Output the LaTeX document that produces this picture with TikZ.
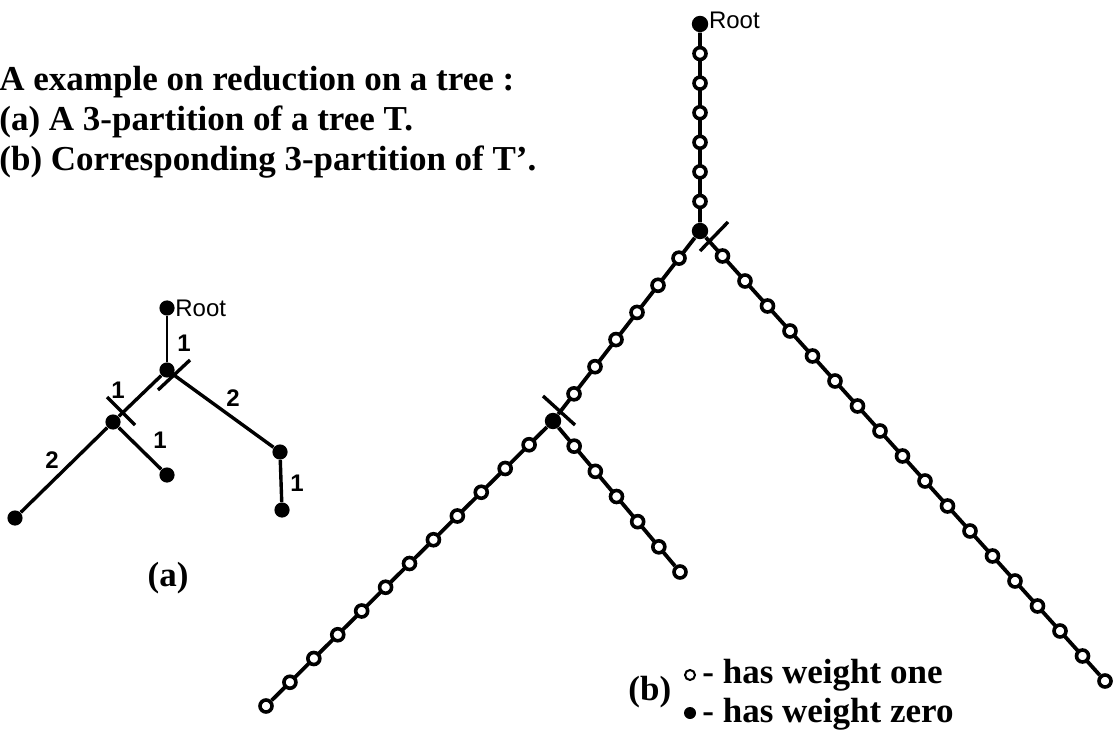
\documentclass[tikz,border=0pt]{standalone}
\usepackage{fontspec}
\setmainfont{Liberation Serif}
\setsansfont{Liberation Sans}
\usetikzlibrary{calc}

\begin{document}
\begin{tikzpicture}[x=0.5pt,y=-0.5pt,
        dot/.style={circle, fill=black, inner sep=0pt, minimum size=7.6pt},
        bead/.style={circle, draw=black, fill=white, line width=1.8pt, inner sep=0pt, minimum size=6pt},
        edge/.style={line width=1.9pt},
        cut/.style={line width=1.7pt},
        wt/.style={font=\sffamily\bfseries\fontsize{12pt}{14pt}\selectfont, inner sep=0pt},
        rootlbl/.style={font=\sffamily\fontsize{12pt}{14pt}\selectfont, inner sep=0pt},
        txt/.style={font=\bfseries\fontsize{17.5pt}{20pt}\selectfont, inner sep=0pt, anchor=base west}]
        \useasboundingbox (0,0) rectangle (1118,737);
        \node[txt] (t1) at (-1,91) {A example on reduction on a tree :};
        \node[txt] (t2) at (-1,131) {(a) A 3-partition of a tree T.};
        \node[txt] (t3) at (-1,171) {(b) Corresponding 3-partition of T'.};

        \node[dot, label={[rootlbl]right:Root}] (r) at (167,308) {};
        \node[dot] (a) at (167,370) {};
        \node[dot] (b) at (113,422) {};
        \node[dot] (c) at (280,452) {};
        \node[dot] (d) at (15,518) {};
        \node[dot] (e) at (167,475) {};
        \node[dot] (f) at (282,510) {};
        \draw[line width=1pt] (r) -- (a);
        \draw[edge, line width=1.7pt] (a) -- (b) -- (d);
        \draw[edge, line width=1.7pt] (b) -- (e);
        \draw[edge, line width=1.7pt] (a) -- (c) -- (f);
        \node[wt] (w1) at (184,343) {1};
        \node[wt] (w2) at (118,390) {1};
        \node[wt] (w3) at (233,398) {2};
        \node[wt] (w4) at (160,440) {1};
        \node[wt] (w5) at (52,460) {2};
        \node[wt] (w6) at (297,483) {1};
        \draw[cut] ([shift={(-9,20)}]a.center) -- ([shift={(23,-10)}]a.center);
        \draw[cut] ([shift={(-6,-25)}]b.center) -- ([shift={(22,3)}]b.center);
        \node[txt, anchor=base] (capa) at (168,586) {(a)};

        \node[dot, minimum size=8.2pt, label={[rootlbl, yshift=2pt]right:Root}] (rb) at (700,24) {};
        \node[dot, minimum size=8.2pt] (jb) at (700,231) {};
        \node[dot, minimum size=8.2pt] (mb) at (553,421) {};
        \node[bead] (le) at (266,706) {};
        \node[bead] (me) at (680,572) {};
        \node[bead] (re) at (1105,681) {};
        \draw[edge] (rb) -- (jb) -- (mb) -- (le);
        \draw[edge] (mb) -- (me);
        \draw[edge] (jb) -- (re);
        \foreach \i in {1,...,6} \node[bead] (s\i) at ($(rb)!\i/7!(jb)$) {};
        \foreach \i in {1,...,6} \node[bead] (u\i) at ($(jb)!\i/7!(mb)$) {};
        \foreach \i in {1,...,11} \node[bead] (l\i) at ($(mb)!\i/12!(le)$) {};
        \foreach \i in {1,...,5} \node[bead] (m\i) at ($(mb)!\i/6!(me)$) {};
        \foreach \i in {1,...,17} \node[bead] (q\i) at ($(jb)!\i/18!(re)$) {};
        \draw[cut] ([shift={(0,20)}]jb.center) -- ([shift={(28,-9)}]jb.center);
        \draw[cut] ([shift={(-10,-25)}]mb.center) -- ([shift={(22,4)}]mb.center);

        \node[txt] (capb) at (628,700) {(b)};
        \node[bead, line width=1pt, minimum size=5pt] (k1) at (690,675) {};
        \node[dot, minimum size=6pt] (k2) at (690,713) {};
        \node[txt] (k1t) at (702,683) {- has weight one};
        \node[txt] (k2t) at (702,722) {- has weight zero};
    \end{tikzpicture}
\end{document}
